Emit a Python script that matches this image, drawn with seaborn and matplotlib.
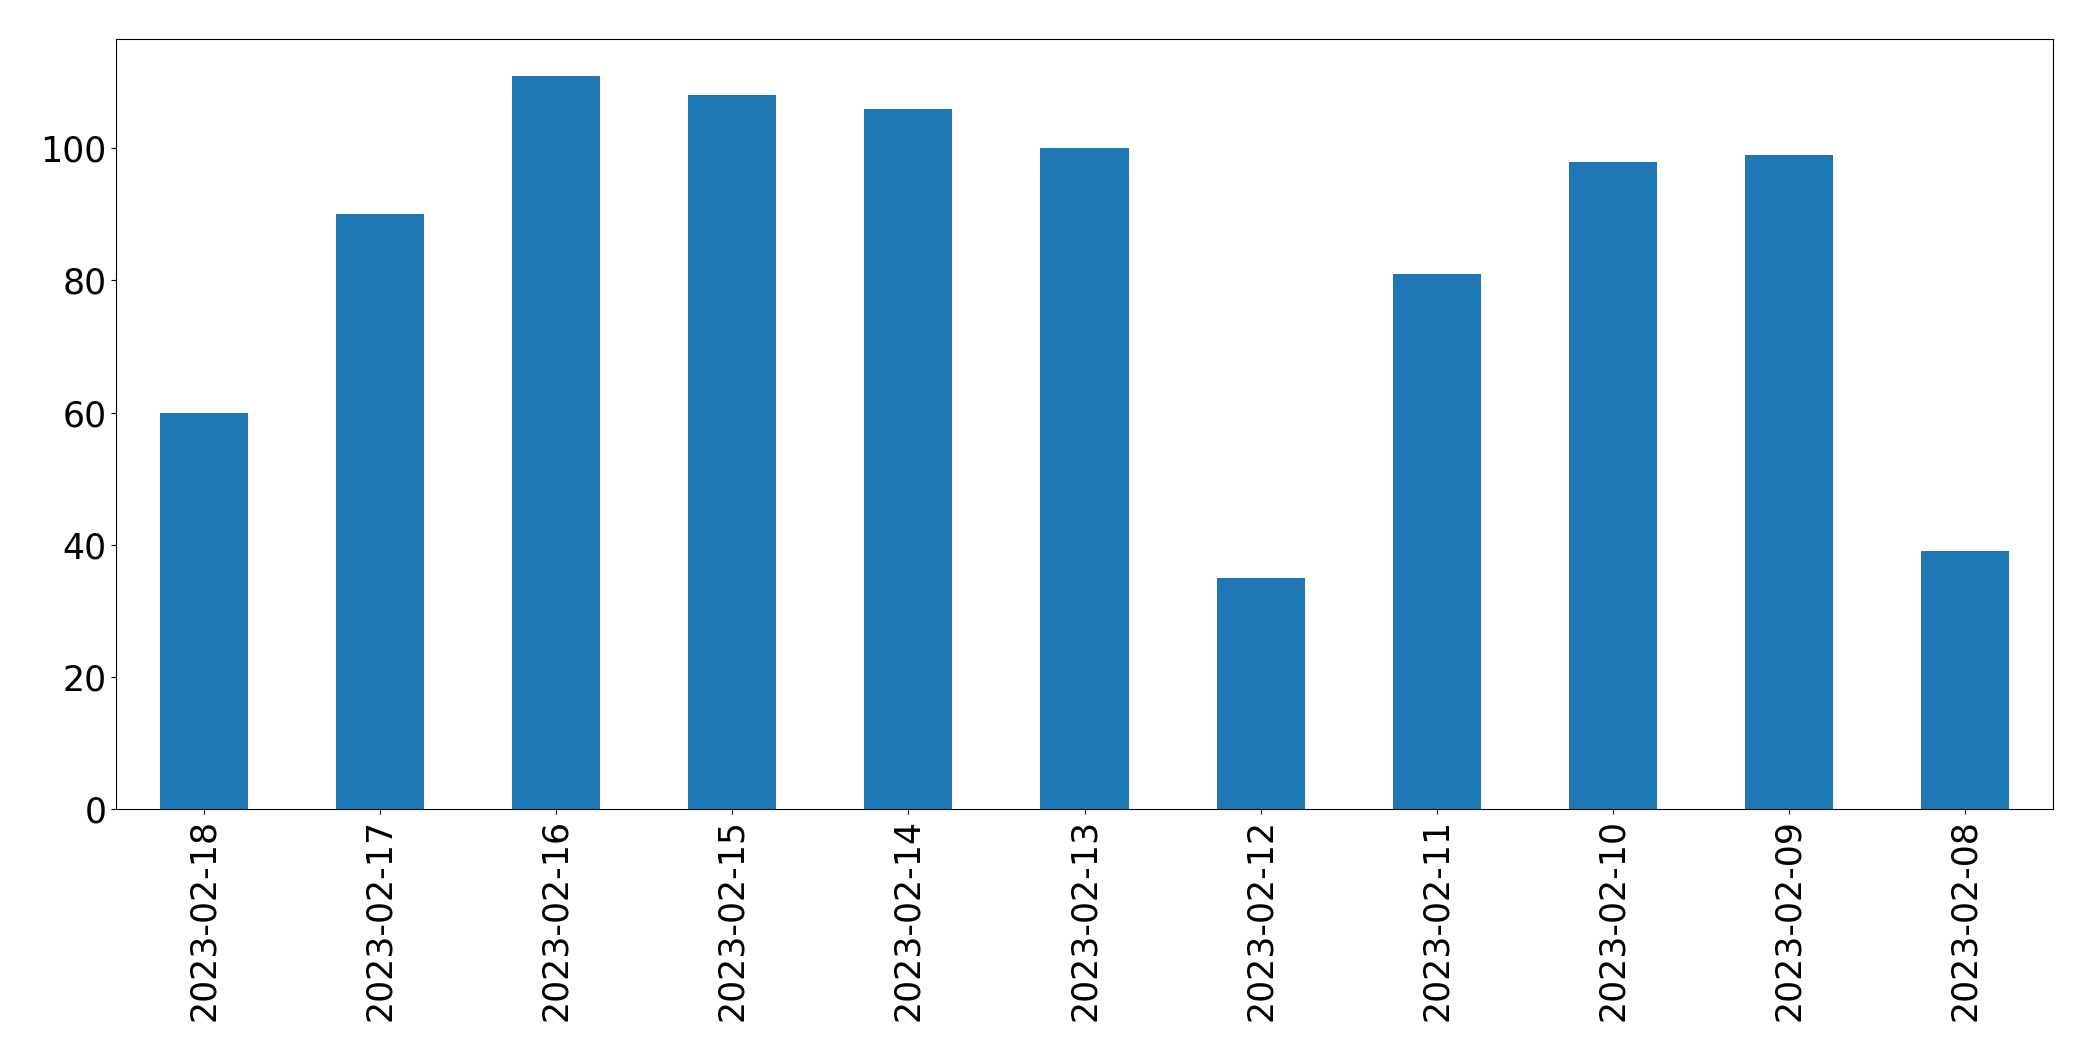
import matplotlib
matplotlib.use("Agg")
import matplotlib.pyplot as plt
import seaborn as sns
import pandas as pd

dates = ["2023-02-18", "2023-02-17", "2023-02-16", "2023-02-15", "2023-02-14",
         "2023-02-13", "2023-02-12", "2023-02-11", "2023-02-10", "2023-02-09",
         "2023-02-08"]
counts = [60, 90, 111, 108, 106, 100, 35, 81, 98, 99, 39]

df = pd.DataFrame({"date": dates, "count": counts})

fig, ax = plt.subplots(figsize=(20.93, 10.61), dpi=100)
fig.subplots_adjust(left=116 / 2093, right=2053 / 2093, top=1 - 39 / 1061, bottom=1 - 809 / 1061)

sns.barplot(data=df, x="date", y="count", order=dates, color="#1f77b4",
            saturation=1, width=0.5, ax=ax)

ax.set_xlim(-0.5, len(dates) - 0.5)
ax.set_ylim(0, max(counts) * 1.05)
ax.set_xlabel("")
ax.set_ylabel("")
ax.tick_params(axis="both", labelsize=25)
ax.tick_params(axis="x", labelrotation=90)
for s in ax.spines.values():
    s.set_visible(True)
    s.set_color("black")

fig.savefig("out.png", dpi=100)
